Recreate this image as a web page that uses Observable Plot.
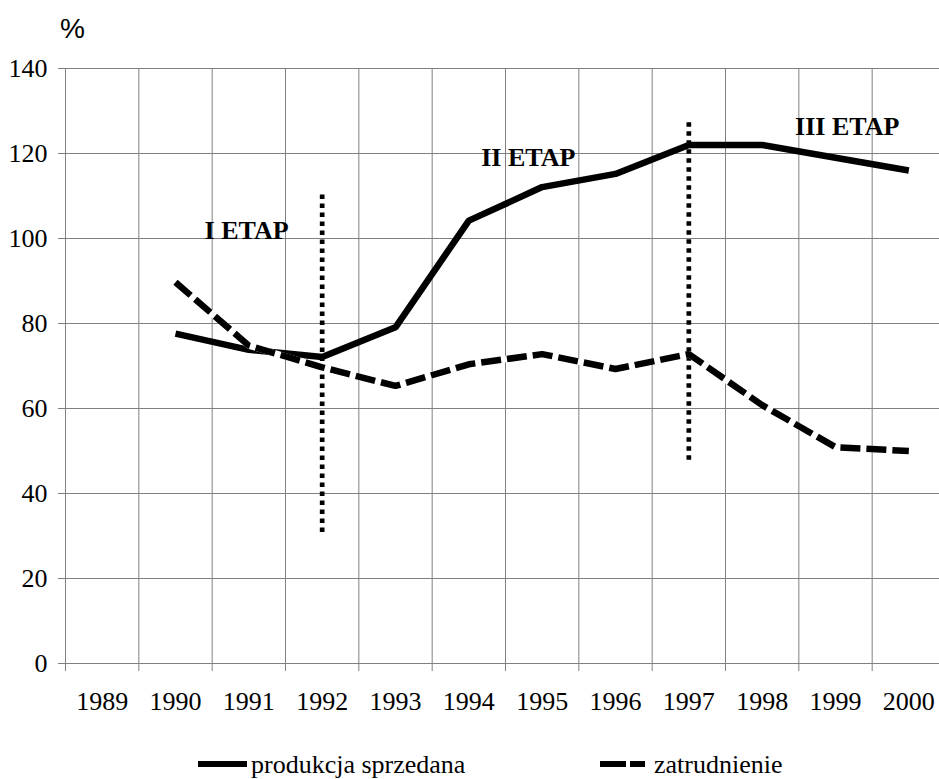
<!DOCTYPE html>
<html>
<head>
<meta charset="utf-8">
<script src="https://cdn.jsdelivr.net/npm/d3@7"></script>
<script src="https://cdn.jsdelivr.net/npm/@observablehq/plot@0.6"></script>
<style>
  html, body { margin: 0; padding: 0; background: #fff; }
  #chart { width: 939px; height: 779px; overflow: hidden; }
</style>
</head>
<body>
<div id="chart"></div>
<script>
// ---- data ----
const years = [1989, 1990, 1991, 1992, 1993, 1994, 1995, 1996, 1997, 1998, 1999, 2000];
const dataYears = [1990, 1991, 1992, 1993, 1994, 1995, 1996, 1997, 1998, 1999, 2000];
const produkcja = [77.6, 73.8, 72.1, 79.1, 104.2, 112.1, 115.2, 122, 122, 119, 116];
const zatrudnienie = [89.7, 74.8, 69.7, 65.3, 70.4, 72.8, 69.3, 72.8, 60.8, 50.9, 50];
const yTicks = [0, 20, 40, 60, 80, 100, 120, 140];
const stageYears = [1992, 1997];
const stageFrom = [30.8, 47.8];
const stageTo = [110.6, 128.2];
const stageLabels = ["I ETAP", "II ETAP", "III ETAP"];
const stageLabelX = [1990.97, 1994.81, 1999.16];
const stageLabelY = [101.8, 119, 126.3];
const seriesNames = ["produkcja sprzedana", "zatrudnienie"];
const yUnit = "%";

// ---- tables built from arrays ----
const prodData = dataYears.map((y, i) => ({year: y, value: produkcja[i]}));
const zatrData = dataYears.map((y, i) => ({year: y, value: zatrudnienie[i]}));
const gridX = years.map(y => y - 0.5);
const stages = stageYears.map((y, i) => ({year: y, from: stageFrom[i], to: stageTo[i]}));
const labels = stageLabels.map((t, i) => ({text: t, x: stageLabelX[i], y: stageLabelY[i]}));

const serif = "Liberation Serif";
const grid = "#808080";

const chart = Plot.plot({
  width: 939,
  height: 779,
  marginLeft: 65,
  marginRight: 0,
  marginTop: 68,
  marginBottom: 116,
  style: {background: "#fff", color: "#000"},
  x: {type: "linear", domain: [years[0] - 0.5, years[years.length - 1] + 0.5], range: [65, 945]},
  y: {domain: [0, 140], range: [663, 68]},
  marks: [
    Plot.ruleY(yTicks, {stroke: grid, strokeWidth: 1}),
    Plot.ruleX(gridX, {y1: 0, y2: 140, stroke: grid, strokeWidth: 1}),
    Plot.axisX(gridX, {tickSize: 8, tickFormat: () => "", stroke: grid}),
    Plot.axisX(years, {tickSize: 0, tickPadding: 28, tickFormat: d => String(d), fontSize: 26, fill: "#000"}),
    Plot.axisY(yTicks, {tickSize: 7, tickPadding: 11, tickFormat: d => String(d), fontSize: 26, stroke: grid, fill: "#000"}),
    Plot.ruleX(stages, {x: "year", y1: "from", y2: "to", stroke: "#000", strokeWidth: 4.7, strokeDasharray: "4.5,4.5"}),
    Plot.line(prodData, {x: "year", y: "value", stroke: "#000", strokeWidth: 6.5, strokeLinejoin: "miter", strokeLinecap: "butt"}),
    Plot.line(zatrData, {x: "year", y: "value", stroke: "#fff", strokeWidth: 6.5, strokeLinejoin: "miter", strokeLinecap: "butt"}),
    Plot.line(zatrData, {x: "year", y: "value", stroke: "#000", strokeWidth: 6.5, strokeDasharray: "20,6", strokeLinejoin: "miter", strokeLinecap: "butt"}),
    Plot.text(labels, {x: "x", y: "y", text: "text", fontWeight: "bold", fontSize: 26, fill: "#000"})
  ]
});

document.getElementById("chart").appendChild(chart);

const svg = d3.select(chart);
svg.attr("font-family", serif).style("font-family", serif);

// unit label and legend
svg.append("text")
  .attr("x", 60).attr("y", 38)
  .attr("text-anchor", "start")
  .attr("font-family", "Liberation Sans")
  .attr("font-size", 28)
  .attr("fill", "#000")
  .text(yUnit);

const legend = svg.append("g").attr("font-size", 26).attr("fill", "#000").attr("text-anchor", "start");
legend.append("line").attr("x1", 198).attr("x2", 247).attr("y1", 764).attr("y2", 764)
  .attr("stroke", "#000").attr("stroke-width", 6);
legend.append("text").attr("x", 251).attr("y", 773).text(seriesNames[0]);
legend.append("line").attr("x1", 600).attr("x2", 645).attr("y1", 764).attr("y2", 764)
  .attr("stroke", "#000").attr("stroke-width", 6).attr("stroke-dasharray", "26,4");
legend.append("text").attr("x", 654).attr("y", 773).text(seriesNames[1]);

svg.selectAll("text").each(function () {
  if (!this.getAttribute("font-family")) this.setAttribute("font-family", serif);
});
</script>
</body>
</html>
